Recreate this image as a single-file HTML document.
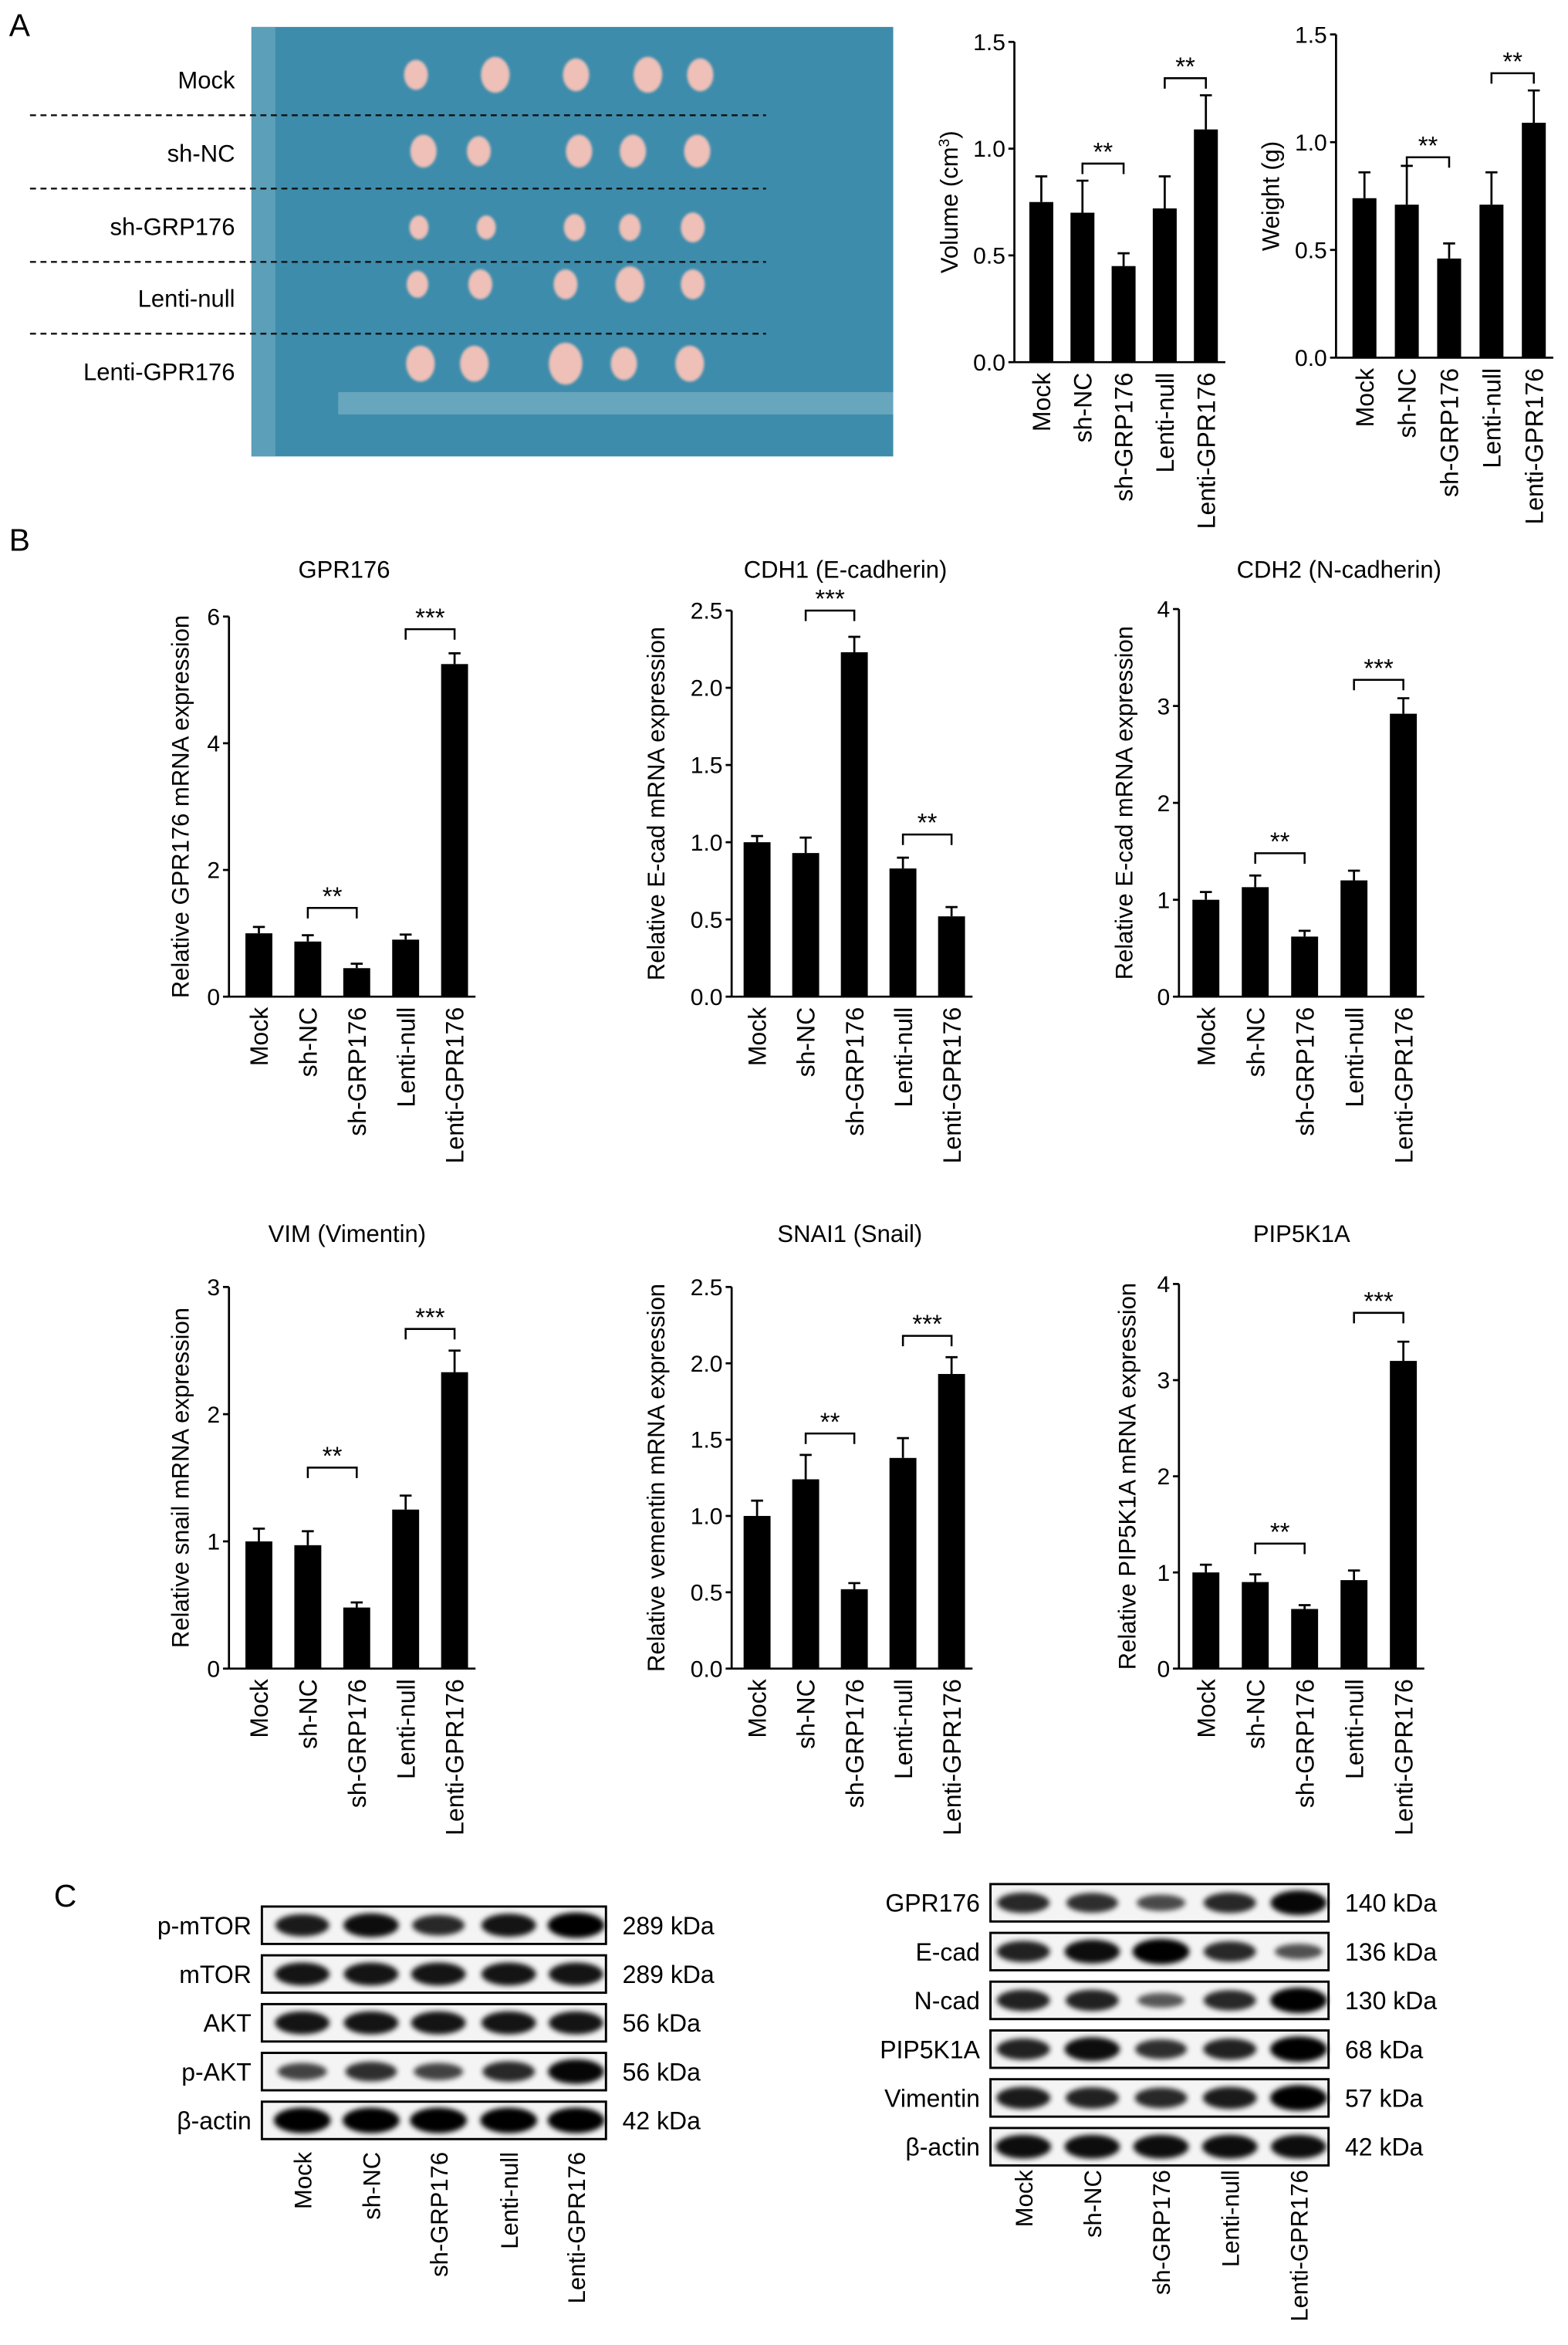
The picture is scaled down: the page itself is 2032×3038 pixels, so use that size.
<!DOCTYPE html>
<html><head><meta charset="utf-8"><style>
html,body{margin:0;padding:0;background:#fff;}
svg{display:block;font-family:"Liberation Sans",Arial,sans-serif;}
</style></head><body>
<svg id="fig" width="2032" height="3038" viewBox="0 0 1048 1567" xmlns="http://www.w3.org/2000/svg">
<defs>
<filter id="blur" x="-30%" y="-60%" width="160%" height="220%"><feGaussianBlur stdDeviation="1.8"/></filter>
<filter id="tblur"><feGaussianBlur stdDeviation="0.8"/></filter>
</defs>
<text x="6" y="24" font-size="21">A</text>
<text x="6" y="368" font-size="21">B</text>
<text x="36" y="1274" font-size="21">C</text>
<g id="photo">
<rect x="168" y="18" width="429" height="287" fill="#3d8cab"/>
<rect x="168" y="18" width="16" height="287" fill="#6aa7bd" opacity="0.7"/>
<rect x="226" y="262" width="371" height="15" fill="#79b1c4" opacity="0.7"/>
</g>
<g id="chartsA"></g>
<g id="chartsB"></g>
<g id="blots"></g>
</svg>
<script>
var NS='http://www.w3.org/2000/svg';
function mk(tag,parent,attrs){var e=document.createElementNS(NS,tag);for(var k in attrs)e.setAttribute(k,attrs[k]);parent.appendChild(e);return e;}

var groups=['Mock','sh-NC','sh-GRP176','Lenti-null','Lenti-GPR176'];
var volumeVals=[0.75,0.70,0.45,0.72,1.09];
var volumeErr=[0.87,0.85,0.51,0.87,1.25];
var weightVals=[0.74,0.71,0.46,0.71,1.09];
var weightErr=[0.86,0.89,0.53,0.86,1.24];
var gpr176Vals=[1.0,0.87,0.45,0.9,5.25];
var gpr176Err=[1.1,0.97,0.52,0.98,5.42];
var cdh1Vals=[1.0,0.93,2.23,0.83,0.52];
var cdh1Err=[1.04,1.03,2.33,0.90,0.58];
var cdh2Vals=[1.0,1.13,0.62,1.2,2.92];
var cdh2Err=[1.08,1.25,0.68,1.3,3.08];
var vimVals=[1.0,0.97,0.48,1.25,2.33];
var vimErr=[1.1,1.08,0.52,1.36,2.5];
var snaiVals=[1.0,1.24,0.52,1.38,1.93];
var snaiErr=[1.1,1.4,0.56,1.51,2.04];
var pipVals=[1.0,0.9,0.62,0.92,3.2];
var pipErr=[1.08,0.98,0.66,1.02,3.4];
var ticks15=['0.0','0.5','1.0','1.5'];
var ticks6=['0','2','4','6'];
var ticks25=['0.0','0.5','1.0','1.5','2.0','2.5'];
var ticks4=['0','1','2','3','4'];
var ticks3=['0','1','2','3'];

var svg=document.getElementById('fig');

var ph=document.getElementById('photo');
var tumorRows=[50,101,152,190,243];
var tumorCols=[[278,331,385,433,468],[283,320,387,423,466],[280,325,384,421,463],[279,321,378,421,463],[281,317,378,417,461]];
var tumorSize=[[10,12,11,12,11],[11,10,11,11,11],[8,8,9,9,10],[9,10,10,12,10],[12,12,14,11,12]];
for(var r=0;r<5;r++){for(var c=0;c<5;c++){
 var t=mk('ellipse',ph,{cx:tumorCols[r][c],cy:tumorRows[r],rx:tumorSize[r][c]*0.8,ry:tumorSize[r][c],fill:'#eec0b8',filter:'url(#tblur)'});
 
 
}}
var rowLabels=['Mock','sh-NC','sh-GRP176','Lenti-null','Lenti-GPR176'];
var rowLabelY=[59,108,157,205,254];
for(var i=0;i<5;i++){
 var tl=mk('text',svg,{x:157,y:rowLabelY[i],'font-size':16,'text-anchor':'end'});tl.textContent=rowLabels[i];
 
 
}
var dashY=[77,126,175,223];
for(var i=0;i<4;i++){
 var dl=mk('line',svg,{x1:20,x2:512,y1:dashY[i],y2:dashY[i],stroke:'#111','stroke-width':1.2,'stroke-dasharray':'4,3'});
 
 
}

function barChart(parent,o){
 var g=mk('g',parent,{});
 
 
 var y=function(v){return o.y0-(v/o.max)*(o.y0-o.yTop);};
 var xs=function(i){return o.x0+o.first+i*o.step;};
 mk('line',g,{x1:o.x0,x2:o.x0,y1:o.yTop,y2:o.y0,stroke:'#000','stroke-width':1.4});
 mk('line',g,{x1:o.x0,x2:xs(4)+o.bw/2+5,y1:o.y0,y2:o.y0,stroke:'#000','stroke-width':1.4});
 for(var k=0;k<o.ticks.length;k++){
  var tv=parseFloat(o.ticks[k]);var ty=y(tv);
  mk('line',g,{x1:o.x0-4,x2:o.x0,y1:ty,y2:ty,stroke:'#000','stroke-width':1.4});
  var tt=mk('text',g,{x:o.x0-6,y:ty+5.5,'font-size':15.5,'text-anchor':'end'});tt.textContent=o.ticks[k];
  
  
 }
 for(var i=0;i<o.vals.length;i++){
  var cx=xs(i);
  var b=mk('rect',g,{x:cx-o.bw/2,y:y(o.vals[i]),width:o.bw,height:o.y0-y(o.vals[i]),fill:'#000'});
  
  
  var eb=mk('path',g,{d:'M'+cx+' '+y(o.vals[i])+'V'+y(o.err[i])+'M'+(cx-4)+' '+y(o.err[i])+'H'+(cx+4),stroke:'#000','stroke-width':1.4,fill:'none'});
  
  
  var lb=mk('text',g,{x:0,y:0,'font-size':16.5,'text-anchor':'end',transform:'translate('+(cx+6)+','+(o.y0+7)+') rotate(-90)'});
  lb.textContent=groups[i];
  
  
 }
 var yt=mk('text',g,{x:0,y:0,'font-size':16,'text-anchor':'middle',transform:'translate('+o.titleX+','+((o.y0+o.yTop)/2)+') rotate(-90)'});
 yt.innerHTML=o.ytitle;
 
 
 if(o.title){var ct=mk('text',g,{x:o.titleCx,y:o.titleY,'font-size':16,'text-anchor':'middle'});ct.textContent=o.title;
  
  }
 for(var s=0;s<o.sig.length;s++){
  var a=o.sig[s][0],bb=o.sig[s][1],sy=y(o.sig[s][2]);
  var br=mk('path',g,{d:'M'+xs(a)+' '+(sy+7)+'V'+sy+'H'+xs(bb)+'V'+(sy+7),stroke:'#000','stroke-width':1.3,fill:'none'});
  
  
  var st=mk('text',g,{x:(xs(a)+xs(bb))/2,y:sy-2,'font-size':17,'text-anchor':'middle'});st.textContent=o.sig[s][3];
  
  
 }
}
var A=document.getElementById('chartsA'),B=document.getElementById('chartsB');
barChart(A,{name:'volume-chart',x0:678,yTop:28,y0:242,max:1.5,first:18,step:27.5,bw:16,vals:volumeVals,err:volumeErr,ticks:ticks15,titleX:640,ytitle:'Volume (cm<tspan baseline-shift="super" font-size="10">3</tspan>)',sig:[[1,2,0.93,'**'],[3,4,1.33,'**']]});
barChart(A,{name:'weight-chart',x0:893,yTop:23,y0:239,max:1.5,first:19,step:28.3,bw:16,vals:weightVals,err:weightErr,ticks:ticks15,titleX:855,ytitle:'Weight (g)',sig:[[1,2,0.93,'**'],[3,4,1.32,'**']]});
barChart(B,{name:'gpr176-chart',x0:153,yTop:412,y0:666,max:6,first:20,step:32.7,bw:18,vals:gpr176Vals,err:gpr176Err,ticks:ticks6,titleX:126,titleCx:230,titleY:386,title:'GPR176',ytitle:'Relative GPR176 mRNA expression',sig:[[1,2,1.4,'**'],[3,4,5.8,'***']]});
barChart(B,{name:'cdh1-chart',x0:489,yTop:408,y0:666,max:2.5,first:17,step:32.5,bw:18,vals:cdh1Vals,err:cdh1Err,ticks:ticks25,titleX:444,titleCx:565,titleY:386,title:'CDH1 (E-cadherin)',ytitle:'Relative E-cad mRNA expression',sig:[[3,4,1.05,'**'],[1,2,2.5,'***']]});
barChart(B,{name:'cdh2-chart',x0:788,yTop:407,y0:666,max:4,first:18,step:33,bw:18,vals:cdh2Vals,err:cdh2Err,ticks:ticks4,titleX:757,titleCx:895,titleY:386,title:'CDH2 (N-cadherin)',ytitle:'Relative E-cad mRNA expression',sig:[[1,2,1.48,'**'],[3,4,3.27,'***']]});
barChart(B,{name:'vim-chart',x0:153,yTop:860,y0:1115,max:3,first:20,step:32.7,bw:18,vals:vimVals,err:vimErr,ticks:ticks3,titleX:126,titleCx:232,titleY:830,title:'VIM (Vimentin)',ytitle:'Relative snail mRNA expression',sig:[[1,2,1.58,'**'],[3,4,2.67,'***']]});
barChart(B,{name:'snai1-chart',x0:489,yTop:860,y0:1115,max:2.5,first:17,step:32.5,bw:18,vals:snaiVals,err:snaiErr,ticks:ticks25,titleX:444,titleCx:568,titleY:830,title:'SNAI1 (Snail)',ytitle:'Relative vementin mRNA expression',sig:[[1,2,1.54,'**'],[3,4,2.18,'***']]});
barChart(B,{name:'pip5k1a-chart',x0:788,yTop:858,y0:1115,max:4,first:18,step:33,bw:18,vals:pipVals,err:pipErr,ticks:ticks4,titleX:759,titleCx:870,titleY:830,title:'PIP5K1A',ytitle:'Relative PIP5K1A mRNA expression',sig:[[1,2,1.3,'**'],[3,4,3.7,'***']]});

var leftProteins=['p-mTOR','mTOR','AKT','p-AKT','β-actin'];
var leftKda=['289 kDa','289 kDa','56 kDa','56 kDa','42 kDa'];
var leftIntensity=[[0.8,0.9,0.7,0.85,1.0],[0.85,0.85,0.85,0.85,0.85],[0.85,0.85,0.85,0.85,0.85],[0.5,0.65,0.5,0.7,0.95],[1,1,1,1,1]];
var rightProteins=['GPR176','E-cad','N-cad','PIP5K1A','Vimentin','β-actin'];
var rightKda=['140 kDa','136 kDa','130 kDa','68 kDa','57 kDa','42 kDa'];
var rightIntensity=[[0.7,0.65,0.45,0.7,0.95],[0.75,0.9,1.0,0.7,0.4],[0.75,0.75,0.35,0.7,1.0],[0.75,0.9,0.65,0.75,1.0],[0.8,0.75,0.7,0.8,1.0],[0.9,0.9,0.9,0.9,0.9]];
var BL=document.getElementById('blots');
function blot(o){
 for(var r=0;r<o.prot.length;r++){
  var yt=o.y0+r*o.dy;
  var row=mk('g',BL,{});
  
  
  mk('rect',row,{x:o.x0,y:yt,width:o.w,height:o.h,fill:'#f4f4f4',stroke:'#000','stroke-width':1.5});
  for(var l=0;l<5;l++){
   var it=o.inten[r][l];
   var band=mk('ellipse',row,{cx:o.lanes[l],cy:yt+o.h/2,rx:14+5*it,ry:3+5.5*it,fill:'#000',opacity:0.45+0.55*it,filter:'url(#blur)'});
   
   
  }
  var pl=mk('text',row,{x:o.x0-7,y:yt+o.h/2+6,'font-size':16.5,'text-anchor':'end'});pl.textContent=o.prot[r];
  
  
  var kl=mk('text',row,{x:o.x0+o.w+11,y:yt+o.h/2+6,'font-size':16.5});kl.textContent=o.kda[r];
  
  
 }
 for(var l=0;l<5;l++){
  var ll=mk('text',BL,{x:0,y:0,'font-size':16,'text-anchor':'end',transform:'translate('+(o.lanes[l]+6)+','+o.labY+') rotate(-90)'});
  ll.textContent=groups[l];
  
  
 }
}
blot({prot:leftProteins,kda:leftKda,inten:leftIntensity,x0:175,w:230,y0:1274,dy:32.6,h:25,lanes:[202,248,293,340,385],labY:1438});
blot({prot:rightProteins,kda:rightKda,inten:rightIntensity,x0:662,w:226,y0:1259,dy:32.6,h:25,lanes:[684,730,776,822,868],labY:1450});
</script>
</body></html>
